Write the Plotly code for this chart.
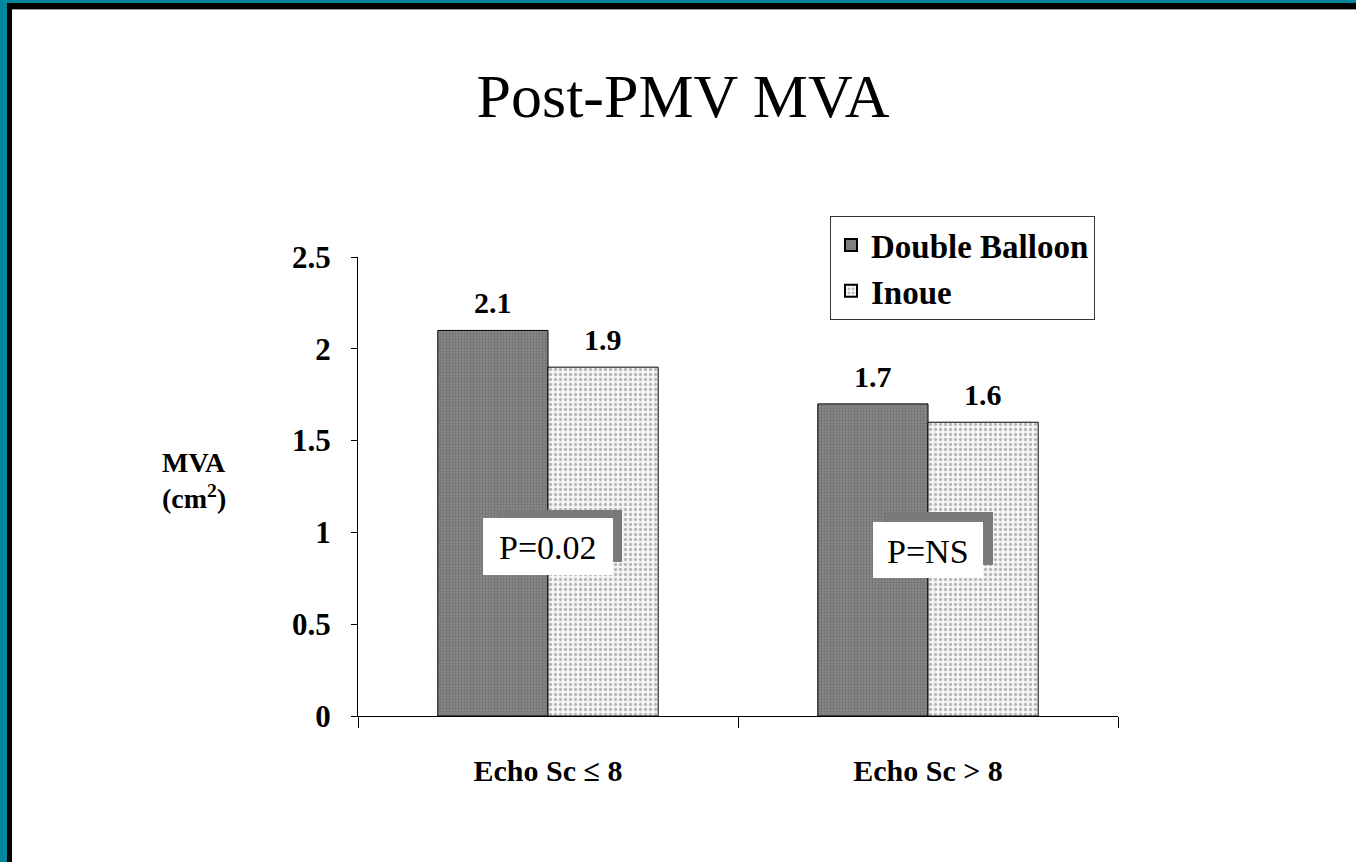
import plotly.graph_objects as go

categories = ["Echo Sc \u2264 8", "Echo Sc > 8"]
double_balloon = [2.1, 1.7]
inoue = [1.9, 1.6]
series_names = ["Double Balloon", "Inoue"]
p_labels = ["P=0.02", "P=NS"]
y_ticks = [0, 0.5, 1, 1.5, 2, 2.5]
y_tick_text = ["0", "0.5", "1", "1.5", "2", "2.5"]

W, H = 1356, 862
L, R, T, B = 358, 1118, 257, 716
SERIF = "Liberation Serif, Times New Roman, serif"

def px(x):
    return (x - L) / (R - L)

def py(y):
    return (B - y) / (B - T)

fig = go.Figure()
fig.add_trace(go.Bar(
    x=categories, y=double_balloon, name=series_names[0],
    marker=dict(color="#808080", line=dict(color="black", width=1),
                pattern=dict(shape=".", bgcolor="#8a8a8a", fgcolor="#555555",
                             size=3, solidity=0.45)),
))
fig.add_trace(go.Bar(
    x=categories, y=inoue, name=series_names[1],
    marker=dict(color="white", line=dict(color="black", width=1),
                pattern=dict(shape=".", bgcolor="#f6f6f6", fgcolor="#7a7a7a",
                             size=5, solidity=0.35)),
))

annotations = []
# value labels above bars (positioned by data values)
for vals, shift in ((double_balloon, -55), (inoue, 55)):
    for c, v in zip(categories, vals):
        annotations.append(dict(x=c, y=v, xref="x", yref="y", text=f"{v:.1f}",
                                showarrow=False, xshift=shift, yshift=9,
                                xanchor="center", yanchor="bottom",
                                font=dict(family=SERIF, size=30, color="black", weight="bold")))

shapes = []
teal = "#00879b"
shapes.append(dict(type="rect", xref="paper", yref="paper", x0=px(0), x1=px(W + 5),
                   y0=py(0), y1=py(3), fillcolor=teal, line=dict(width=0), layer="above"))
shapes.append(dict(type="rect", xref="paper", yref="paper", x0=px(0), x1=px(7),
                   y0=py(0), y1=py(H + 5), fillcolor=teal, line=dict(width=0), layer="above"))
shapes.append(dict(type="rect", xref="paper", yref="paper", x0=px(7), x1=px(W + 5),
                   y0=py(3), y1=py(9), fillcolor="black", line=dict(width=0), layer="above"))
shapes.append(dict(type="rect", xref="paper", yref="paper", x0=px(7), x1=px(12),
                   y0=py(3), y1=py(H + 5), fillcolor="black", line=dict(width=0), layer="above"))
shapes.append(dict(type="line", xref="paper", yref="paper", x0=px(12), x1=px(W + 5),
                   y0=py(9.5), y1=py(9.5), line=dict(color="#9a9a9a", width=1), layer="above"))

boxes = [
    dict(grey=(498, 510, 622, 562), white=(483, 518, 613, 575), text=(548, 547)),
    dict(grey=(885, 512, 993, 565), white=(873, 522, 983, 578), text=(928, 551)),
]
for b, lab in zip(boxes, p_labels):
    gx0, gy0, gx1, gy1 = b["grey"]
    wx0, wy0, wx1, wy1 = b["white"]
    shapes.append(dict(type="rect", xref="paper", yref="paper", x0=px(gx0), x1=px(gx1),
                       y0=py(gy1), y1=py(gy0), fillcolor="#7a7a7a", line=dict(width=0), layer="above"))
    shapes.append(dict(type="rect", xref="paper", yref="paper", x0=px(wx0), x1=px(wx1),
                       y0=py(wy1), y1=py(wy0), fillcolor="white", line=dict(width=0), layer="above"))
    annotations.append(dict(text=lab, xref="paper", yref="paper", x=px(b["text"][0]), y=py(b["text"][1]),
                            showarrow=False, xanchor="center", yanchor="middle",
                            font=dict(family=SERIF, size=34, color="black")))

annotations.append(dict(text="MVA<br>(cm<sup>2</sup>)", xref="paper", yref="paper",
                        x=px(194), y=py(480), showarrow=False, xanchor="center", yanchor="middle",
                        align="left",
                        font=dict(family=SERIF, size=28, color="black", weight="bold")))

fig.update_layout(
    width=W, height=H,
    margin=dict(l=L, r=W - R, t=T, b=H - B, pad=0),
    paper_bgcolor="white", plot_bgcolor="white",
    barmode="group", bargap=0.42, bargroupgap=0,
    title=dict(text="Post-PMV MVA", x=683 / W, xref="container", xanchor="center",
               y=1 - 95 / H, yanchor="middle",
               font=dict(family=SERIF, size=62, color="black")),
    showlegend=True,
    legend=dict(x=px(830), y=py(216), xanchor="left", yanchor="top",
                bgcolor="white", bordercolor="#333333", borderwidth=1,
                font=dict(family=SERIF, size=33, color="black", weight="bold"),
                itemsizing="constant", tracegroupgap=0, itemwidth=30),
    xaxis=dict(type="category", tickson="boundaries", showline=True, linecolor="black",
               linewidth=1, ticks="outside", ticklen=11, tickcolor="black",
               showgrid=False, zeroline=False, ticklabelstandoff=28,
               tickfont=dict(family=SERIF, size=30, color="black", weight="bold")),
    yaxis=dict(range=[0, 2.5], tickvals=y_ticks, ticktext=y_tick_text,
               showline=True, linecolor="black", linewidth=1, ticks="outside",
               ticklen=6, tickcolor="black", showgrid=False, zeroline=False,
               ticklabelstandoff=14,
               tickfont=dict(family=SERIF, size=31, color="black", weight="bold")),
    shapes=shapes, annotations=annotations,
)

fig.write_html("out.html", config={"displayModeBar": False},
               post_script="document.body.style.margin='0';document.body.style.overflow='hidden';")
